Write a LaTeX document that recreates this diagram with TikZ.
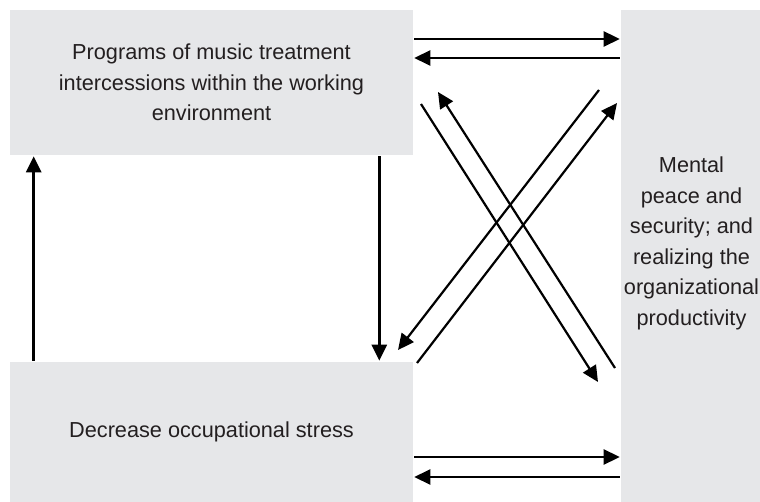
\documentclass[tikz,border=0pt]{standalone}
\usepackage{fontspec}
\setmainfont{Liberation Sans}
\usepackage{tikz}
\usetikzlibrary{arrows.meta}
\definecolor{boxgray}{HTML}{E6E7E9}
\definecolor{textgray}{HTML}{231F20}
\tikzstyle{every node}=[inner sep=0pt, text=textgray, align=center, font=\fontsize{21.7}{30.5}\selectfont]
\tikzset{box/.style={rectangle, fill=boxgray, draw=none}}
\tikzset{>={Triangle[length=16pt,width=15pt]}}

\begin{document}
\begin{tikzpicture}[x=1pt,y=-1pt,line width=2.6pt]
    \clip (0,0) rectangle (760,502);
    \node[box,minimum width=403pt,minimum height=145pt] (prog) at (211.5,82.5)
        {Programs of music treatment\\intercessions within the working\\environment};
    \node[box,minimum width=403pt,minimum height=140pt] (decr) at (211.5,432)
        {Decrease occupational stress};
    \node[box,minimum width=146pt,minimum height=520pt] (mental) at (694,270) {};
    \node (mentaltext) at (691.5,243.6)
        {Mental\\peace and\\security; and\\realizing the\\organizational\\productivity};
    % ends of the crossing arrows
    \coordinate (progout) at (421,104);
    \coordinate (progin) at (438,92);
    \coordinate (decrout) at (417,363);
    \coordinate (decrin) at (398,350);
    \coordinate (mentalin) at (598,382);
    \coordinate (mentalout) at (615,368);
    \coordinate (mentalin2) at (617,103);
    \coordinate (mentalout2) at (599,90);
    \draw[->] (prog.east |- 0,39) -- (mental.west |- 0,39);
    \draw[->] (mental.west |- 0,58) -- (prog.east |- 0,58);
    \draw[->] (decr.east |- 0,457) -- (mental.west |- 0,457);
    \draw[->] (mental.west |- 0,477) -- (decr.east |- 0,477);
    \draw[->] ([xshift=-35pt]prog.south east) -- ([xshift=-35pt]decr.north east);
    \draw[->] ([xshift=25pt]decr.north west) -- ([xshift=25pt]prog.south west);
    \draw[->,line width=2.2pt] (progout) -- (mentalin);
    \draw[->,line width=2.2pt] (mentalout) -- (progin);
    \draw[->,line width=2.2pt] (mentalout2) -- (decrin);
    \draw[->,line width=2.2pt] (decrout) -- (mentalin2);
\end{tikzpicture}
\end{document}
